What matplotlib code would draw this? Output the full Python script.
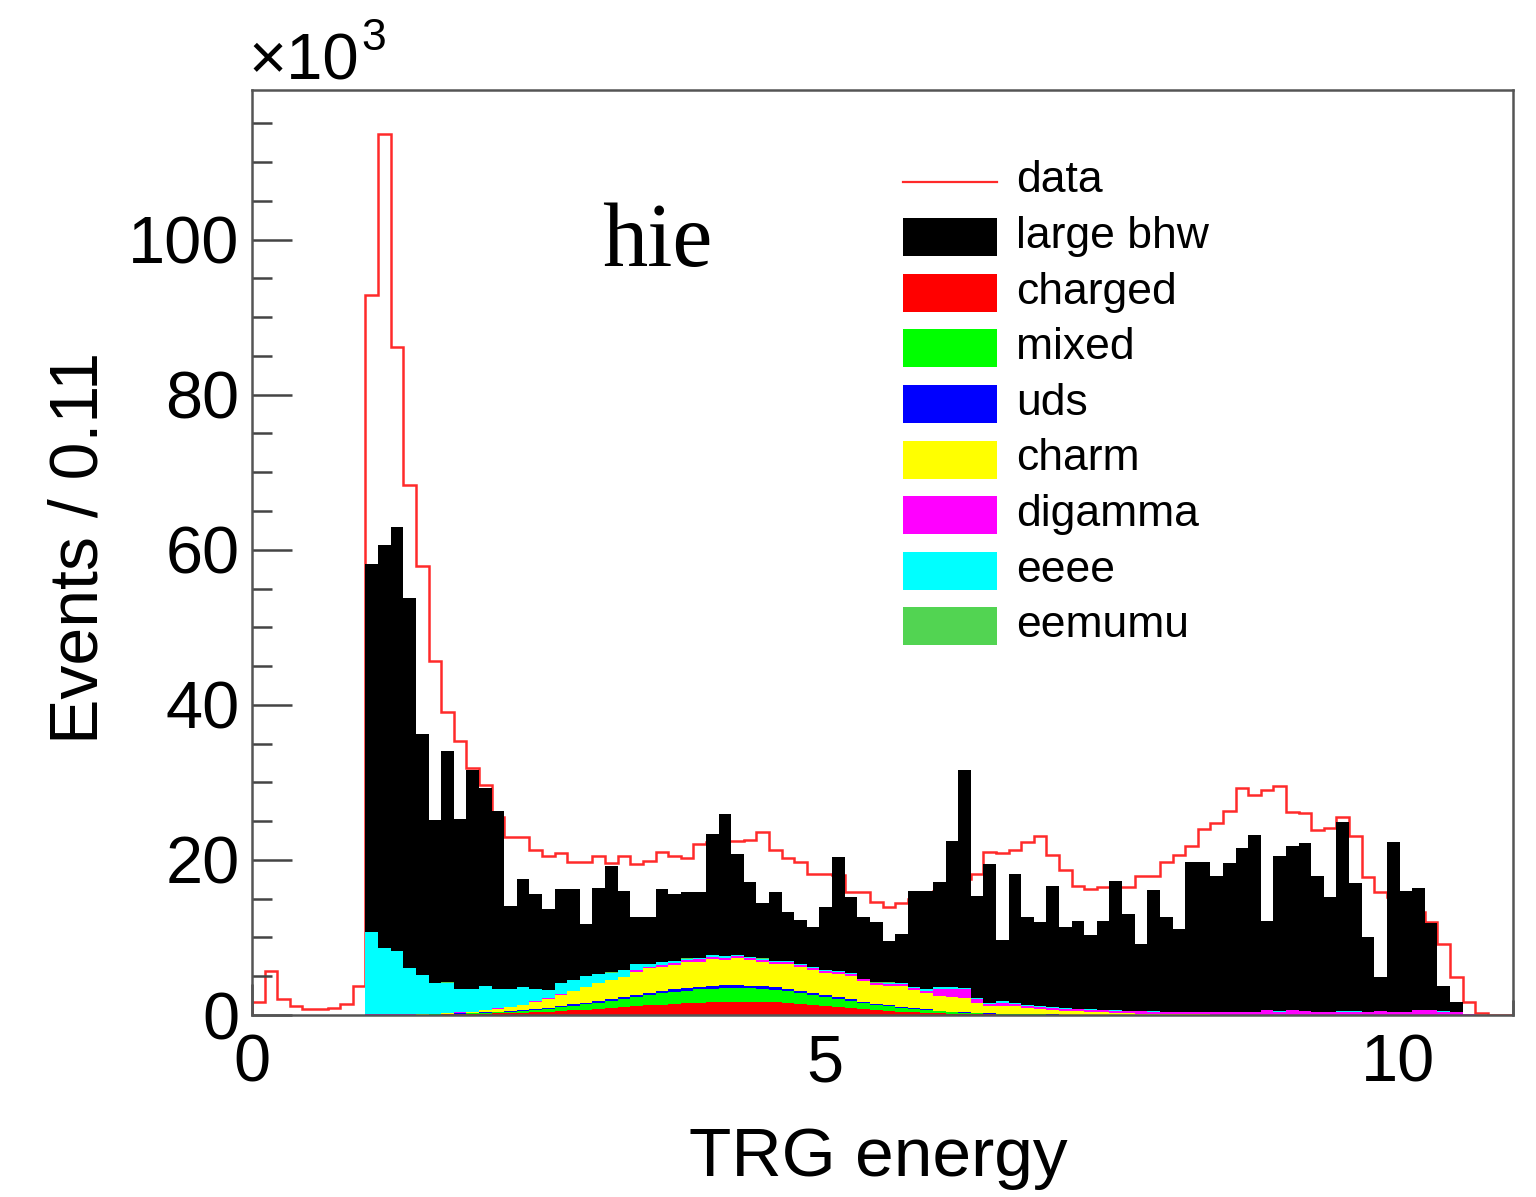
import numpy as np
import matplotlib
matplotlib.use("Agg")
import matplotlib.pyplot as plt
from matplotlib.patches import Rectangle
from matplotlib.lines import Line2D
from matplotlib.ticker import MultipleLocator, FixedLocator

# ---------------- data (events per bin, in units of 10^3) ----------------
n_bins = 100
x_min, x_max = 0.0, 11.0

data = [1.7, 5.7, 2.1, 1.1, 0.8, 0.8, 0.9, 1.45, 3.7, 92.8,
        113.6, 86.2, 68.4, 57.9, 45.7, 39.1, 35.4, 31.8, 29.6, 25.5,
        23.0, 23.0, 21.3, 20.5, 20.9, 19.7, 19.7, 20.5, 19.6, 20.5,
        19.5, 19.8, 21.0, 20.5, 20.2, 22.0, 22.3, 22.5, 22.5, 22.6,
        23.6, 21.3, 20.2, 19.7, 18.2, 18.2, 18.0, 15.9, 15.9, 14.6,
        13.9, 14.4, 15.0, 15.5, 16.0, 16.5, 17.5, 18.2, 21.0, 20.9,
        21.3, 22.3, 23.1, 20.6, 18.7, 16.7, 16.2, 16.5, 16.5, 16.5,
        17.9, 17.9, 19.7, 20.6, 21.8, 24.0, 24.7, 26.3, 29.3, 28.4,
        29.0, 29.5, 26.2, 26.0, 23.8, 24.1, 25.6, 23.1, 17.8, 15.9,
        15.2, 14.5, 13.3, 12.0, 9.2, 4.9, 1.7, 0.24, 0.0, 0.0]

charged = [0]*9 + [0.02, 0.02, 0.03, 0.03, 0.04,
        0.05, 0.07, 0.10, 0.13, 0.17, 0.20,
        0.25, 0.30, 0.36, 0.43, 0.55, 0.62, 0.70, 0.80, 0.90, 1.00,
        1.10, 1.25, 1.35, 1.45, 1.52, 1.60, 1.65, 1.70, 1.72, 1.72,
        1.70, 1.65, 1.55, 1.45, 1.30, 1.15, 1.00, 0.88, 0.75, 0.62,
        0.52, 0.42, 0.35, 0.32, 0.22, 0.17, 0.13, 0.10, 0.08, 0.06,
        0.05, 0.04, 0.03, 0.03, 0.02, 0.02, 0.02, 0.02, 0.02, 0.02,
        0.02, 0.02, 0.02, 0.02, 0.02, 0.02, 0.02, 0.02, 0.02, 0.02,
        0.02, 0.02, 0.02, 0.02, 0.02, 0.02, 0.02, 0.02, 0.02, 0.02,
        0.02, 0.02, 0.02, 0.02, 0.02, 0.02, 0.0, 0.0, 0.0, 0.0]

mixed = [0]*9 + [0.01, 0.01, 0.02, 0.02, 0.02,
        0.03, 0.05, 0.07, 0.10, 0.13, 0.17,
        0.20, 0.25, 0.30, 0.38, 0.50, 0.60, 0.70, 0.80, 0.92, 1.05,
        1.20, 1.35, 1.45, 1.55, 1.62, 1.70, 1.75, 1.78, 1.78, 1.75,
        1.70, 1.62, 1.52, 1.42, 1.30, 1.18, 1.05, 0.95, 0.82, 0.70,
        0.60, 0.50, 0.42, 0.35, 0.28, 0.22, 0.17, 0.13, 0.10, 0.08,
        0.06, 0.05, 0.04, 0.03, 0.02, 0.02, 0.02, 0.02, 0.02, 0.02,
        0.02, 0.02, 0.02, 0.02, 0.02, 0.02, 0.01, 0.01, 0.01, 0.01,
        0.01, 0.01, 0.01, 0.01, 0.01, 0.01, 0.01, 0.01, 0.01, 0.01,
        0.01, 0.01, 0.01, 0.01, 0.01, 0.01, 0.0, 0.0, 0.0, 0.0]

uds = [0]*14 + [0.01, 0.02, 0.03, 0.04, 0.05, 0.06,
        0.07, 0.08, 0.10, 0.12, 0.14, 0.16, 0.18, 0.20, 0.22, 0.24,
        0.26, 0.28, 0.30, 0.31, 0.32, 0.33, 0.33, 0.33, 0.33, 0.32,
        0.31, 0.30, 0.29, 0.27, 0.25, 0.23, 0.21, 0.19, 0.17, 0.15,
        0.13, 0.11, 0.10, 0.08, 0.07, 0.06, 0.05, 0.04, 0.03, 0.03,
        0.02, 0.02, 0.01, 0.01, 0.01, 0.01, 0.01, 0.01, 0.01, 0.01,
        0.01] + [0]*29

charm = [0]*11 + [0.01, 0.01, 0.01,
        0.02, 0.06, 0.10, 0.13, 0.25, 0.37,
        0.48, 0.67, 0.94, 1.17, 1.41, 1.72, 2.02, 2.30, 2.46, 2.61,
        3.04, 3.12, 3.15, 3.19, 3.34, 3.27, 3.47, 3.29, 3.47, 3.31,
        3.19, 3.03, 3.24, 3.06, 2.95, 2.84, 3.04, 2.98, 2.66, 2.43,
        2.55, 2.67, 2.33, 2.15, 1.83, 1.85, 1.85, 1.23, 0.89, 1.03,
        0.97, 0.79, 0.67, 0.58, 0.50, 0.41, 0.33, 0.28, 0.23, 0.18,
        0.14, 0.11, 0.08, 0.06, 0.05, 0.04, 0.03, 0.03, 0.02, 0.02,
        0.01] + [0]*19

digamma = [0]*9 + [0.05]*21 + [
        0.20, 0.25, 0.25, 0.25, 0.25, 0.30, 0.30, 0.30, 0.30, 0.25,
        0.25, 0.25, 0.25, 0.25, 0.25, 0.25, 0.25, 0.25, 0.20, 0.20,
        0.25, 0.25, 0.25, 0.25, 0.90, 1.10, 1.10, 0.50, 0.30, 0.30,
        0.30, 0.25, 0.25, 0.25, 0.25, 0.25, 0.30, 0.30, 0.30, 0.30,
        0.30, 0.30, 0.30, 0.30, 0.30, 0.30, 0.30, 0.30, 0.35, 0.35,
        0.60, 0.40, 0.60, 0.50, 0.35, 0.35, 0.40, 0.40, 0.35, 0.45,
        0.35, 0.35, 0.60, 0.60, 0.40, 0.30, 0.15, 0.05, 0.0, 0.0]

eeee = [0]*9 + [10.59, 8.59, 8.16, 5.96, 5.05, 3.91, 3.92, 3.02, 2.92, 3.12, 2.52,
        2.32, 2.22, 1.62, 1.02, 1.42, 1.32, 1.32, 1.12, 0.92, 0.82,
        0.77, 0.33, 0.28, 0.23, 0.23, 0.18, 0.18, 0.18, 0.18, 0.13,
        0.13, 0.13, 0.13, 0.13, 0.13, 0.13, 0.13, 0.13, 0.08, 0.08,
        0.13, 0.14, 0.14, 0.14, 0.29, 0.19, 0.19, 0.19, 0.15, 0.25,
        0.20, 0.15, 0.10, 0.08, 0.05, 0.05, 0.05, 0.05, 0.05, 0.05,
        0.05, 0.03, 0.03, 0.03, 0.03, 0.03, 0.03, 0.03, 0.03, 0.03,
        0.03, 0.03, 0.03, 0.03, 0.03, 0.03, 0.03, 0.03, 0.03, 0.03,
        0.03, 0.03, 0.03, 0.03, 0.03, 0.03, 0.0, 0.0, 0.0, 0.0]

eemumu = [0]*9 + [0.03]*22 + [0.02]*20 + [0.01]*10 + [0]*39

large_bhw = [0]*9 + [47.5, 51.9, 54.7, 47.7, 31.1, 21.1, 29.9, 21.9, 28.2, 25.5, 22.9,
        10.6, 13.9, 12.2, 10.5, 12.1, 11.8, 6.8, 11.1, 13.7, 10.2,
        6.0, 6.0, 9.4, 8.6, 8.5, 8.4, 15.7, 18.3, 13.0, 9.7,
        7.1, 8.9, 6.3, 5.6, 5.1, 8.1, 14.7, 9.8, 7.9, 7.8,
        5.4, 6.4, 12.4, 12.7, 13.6, 18.9, 28.1, 13.2, 17.9, 7.9,
        16.6, 11.3, 10.9, 15.7, 10.5, 11.3, 9.6, 11.5, 16.6, 12.5,
        8.6, 15.6, 12.2, 10.7, 19.3, 19.3, 17.5, 19.2, 21.1, 22.8,
        11.4, 20.1, 21.1, 21.6, 17.5, 14.8, 24.4, 16.5, 9.6, 4.4,
        21.9, 15.6, 15.7, 11.2, 3.3, 1.3, 0.0, 0.0, 0.0, 0.0]

# stacking order, bottom to top
stack_names = ["charged", "mixed", "uds", "charm", "digamma", "eeee", "eemumu", "large bhw"]
stack_values = [charged, mixed, uds, charm, digamma, eeee, eemumu, large_bhw]
stack_colors = ["#ff0000", "#00ff00", "#0000ff", "#ffff00", "#ff00ff", "#00ffff", "#52d452", "#000000"]

legend_labels = ["data", "large bhw", "charged", "mixed", "uds", "charm", "digamma", "eeee", "eemumu"]
legend_colors = ["#ff2a2a", "#000000", "#ff0000", "#00ff00", "#0000ff", "#ffff00", "#ff00ff", "#00ffff", "#52d452"]

for v in stack_values + [data]:
    assert len(v) == n_bins, len(v)

# ---------------- figure ----------------
W, H = 1536, 1197
fig = plt.figure(figsize=(W / 100, H / 100), dpi=100)
fig.patch.set_facecolor("white")

def px(x, y):
    return x / W, 1 - y / H

ax_l, ax_r, ax_t, ax_b = 252, 1513, 90, 1015
ax = fig.add_axes([ax_l / W, 1 - ax_b / H, (ax_r - ax_l) / W, (ax_b - ax_t) / H])

edges = np.linspace(x_min, x_max, n_bins + 1)

# data drawn beneath the MC stack (as in the original)
ax.stairs(np.array(data), edges, baseline=0, color="#ff2a2a", lw=1.8, zorder=1)

bottom = np.zeros(n_bins)
for vals, col in zip(stack_values, stack_colors):
    top = bottom + np.array(vals, dtype=float)
    ax.stairs(top, edges, baseline=bottom, fill=True, color=col, lw=0, zorder=2)
    bottom = top

ax.set_xlim(x_min, x_max)
ax.set_ylim(0, 119.3)

frame_col = "#555555"
for s in ax.spines.values():
    s.set_color(frame_col)
    s.set_linewidth(1.8)
    s.set_zorder(5)

tick_font = "Liberation Sans"
ax.yaxis.set_major_locator(FixedLocator([0, 20, 40, 60, 80, 100]))
ax.yaxis.set_minor_locator(MultipleLocator(5))
ax.xaxis.set_major_locator(FixedLocator([0, 5, 10]))
ax.xaxis.set_minor_locator(MultipleLocator(1))
ax.tick_params(axis="y", which="major", direction="in", length=29, width=1.8,
               color="#444444", labelsize=48, pad=9, left=True, right=False)
ax.tick_params(axis="y", which="minor", direction="in", length=14.5, width=1.8,
               color="#444444", left=True, right=False)
ax.tick_params(axis="x", which="major", direction="in", length=22, width=1.8,
               color="#444444", labelsize=48, pad=13, bottom=True, top=False)
ax.tick_params(axis="x", which="minor", direction="in", length=11, width=1.8,
               color="#444444", bottom=True, top=False)
ax.set_yticklabels(["0", "20", "40", "60", "80", "100"])
ax.set_xticklabels(["0", "5", "10"])
for lab in ax.get_xticklabels() + ax.get_yticklabels():
    lab.set_fontfamily(tick_font)

# axis titles
fig.text(*px(80, 548), "Events / 0.11", rotation=90, ha="center", va="center",
         fontsize=49, family=tick_font)
fig.text(*px(878, 1158), "TRG energy", ha="center", va="center",
         fontsize=50, family=tick_font)
# exponent
fig.text(*px(248, 80), "\u00d710", ha="left", va="baseline", fontsize=47, family=tick_font)
fig.text(*px(361, 50), "3", ha="left", va="baseline", fontsize=32, family=tick_font)

# "hie" tag
fig.text(*px(602, 266), "hie", ha="left", va="baseline", fontsize=65, family="Liberation Serif")

# legend (drawn by hand, ROOT style)
row0 = 181.5
dy = 55.6
box_x0, box_x1 = 903, 997
box_h = 38
for i, (lab, col) in enumerate(zip(legend_labels, legend_colors)):
    yc = row0 + i * dy
    if i == 0:
        fig.add_artist(Line2D([box_x0 / W, box_x1 / W], [1 - yc / H, 1 - yc / H],
                              color=col, lw=1.6, transform=fig.transFigure))
    else:
        fig.add_artist(Rectangle((box_x0 / W, 1 - (yc + box_h / 2) / H),
                                 (box_x1 - box_x0) / W, box_h / H,
                                 facecolor=col, edgecolor="none", transform=fig.transFigure))
    fig.text(*px(1016, yc + 11), lab, ha="left", va="baseline", fontsize=32, family=tick_font)

fig.savefig("out.png", dpi=100, facecolor="white")
